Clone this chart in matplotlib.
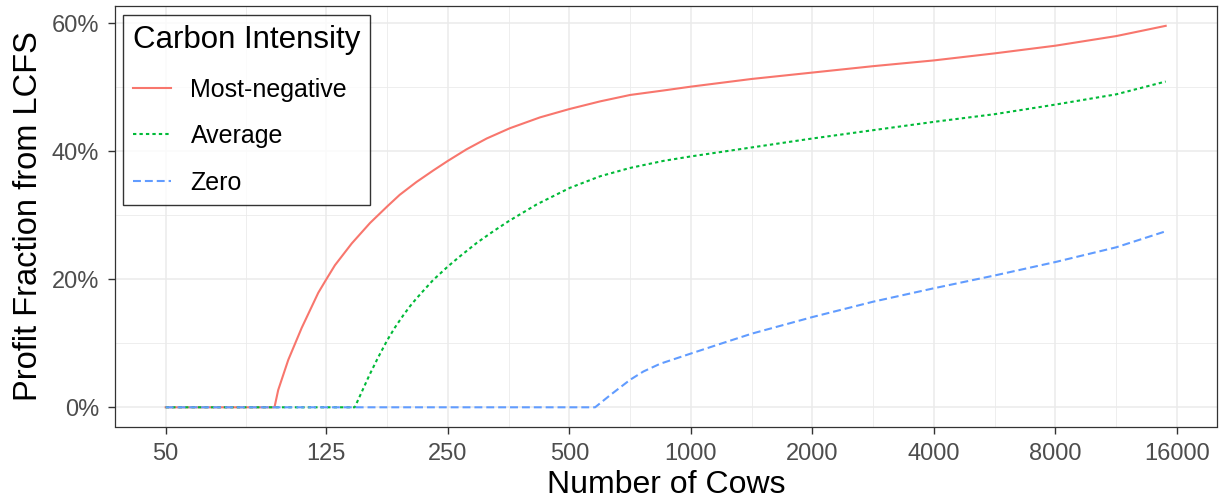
import numpy as np
import matplotlib
matplotlib.use("Agg")
import matplotlib.pyplot as plt
from matplotlib.ticker import FixedLocator, FuncFormatter, NullFormatter

plt.rcParams['font.family'] = ['Liberation Sans', 'DejaVu Sans']

# values (x = number of cows, y = percent)
cows_red = [50, 93, 95, 100.6, 108.6, 119.4, 125, 131.3, 144.5, 160.4, 177, 190, 209, 230,
            250, 278, 312, 356, 423, 500, 596, 707, 855,
            1000, 1414, 2000, 2828, 4000, 5657, 8000, 11314, 15000]
most_negative = [0, 0, 2.7, 7.4, 12.4, 17.9, 20.0, 22.2, 25.6, 28.8, 31.4, 33.2, 35.2, 37.0,
                 38.5, 40.3, 42.0, 43.6, 45.3, 46.6, 47.8, 48.8, 49.5,
                 50.1, 51.3, 52.3, 53.3, 54.2, 55.3, 56.5, 58.0, 59.6]

cows_green = [50, 147, 153, 160, 168, 177, 185, 194, 201.5, 209, 219.5, 230, 250, 268,
              295, 324, 354, 415, 502, 596, 707, 855,
              1000, 1414, 2000, 2828, 4000, 5657, 8000, 11314, 15000]
average = [0, 0, 2.4, 5.1, 7.8, 10.5, 12.5, 14.4, 15.8, 17.0, 18.5, 19.9, 22.0, 23.6,
           25.7, 27.5, 29.1, 31.7, 34.3, 36.1, 37.4, 38.5,
           39.2, 40.6, 42.0, 43.3, 44.6, 45.8, 47.3, 48.9, 50.9]

cows_blue = [50, 579, 631, 707, 763, 839, 1000, 1181, 1414, 2000, 2828, 4000, 5657, 8000, 11314, 15000]
zero = [0, 0, 1.9, 4.3, 5.6, 6.8, 8.4, 9.9, 11.5, 14.1, 16.5, 18.6, 20.6, 22.7, 25.0, 27.5]

x_breaks = [50, 125, 250, 500, 1000, 2000, 4000, 8000, 16000]
y_breaks = [0, 20, 40, 60]

fig = plt.figure(figsize=(12.23, 5.0), dpi=100)
ax = fig.add_axes([115 / 1223, 73.5 / 500, 1102 / 1223, 420.5 / 500])

ax.plot(cows_red, most_negative, color='#F8766D', lw=1.5, label='Most-negative', zorder=3)
ax.plot(cows_green, average, color='#00BA38', lw=1.5, dashes=(1.6, 1.5), label='Average', zorder=3)
ax.plot(cows_blue, zero, color='#619CFF', lw=1.5, dashes=(3.8, 1.9), label='Zero', zorder=3)

ax.set_xscale('log', base=2)
ax.set_xlim(37.45, 20100)
ax.set_ylim(-3.0, 62.7)

ax.xaxis.set_major_locator(FixedLocator(x_breaks))
ax.xaxis.set_major_formatter(FuncFormatter(lambda v, p: '%d' % round(v)))
minor_x = [np.sqrt(a * b) for a, b in zip(x_breaks[:-1], x_breaks[1:])]
ax.xaxis.set_minor_locator(FixedLocator(minor_x))
ax.xaxis.set_minor_formatter(NullFormatter())
ax.yaxis.set_major_locator(FixedLocator(y_breaks))
ax.yaxis.set_major_formatter(FuncFormatter(lambda v, p: '%d%%' % v))
ax.yaxis.set_minor_locator(FixedLocator([10, 30, 50]))

ax.grid(which='major', color='#EBEBEB', lw=1.1, zorder=0)
ax.grid(which='minor', color='#EBEBEB', lw=0.6, zorder=0)
ax.set_axisbelow(True)

for s in ax.spines.values():
    s.set_color('#333333')
    s.set_linewidth(0.9)
ax.tick_params(which='major', length=5, width=1.0, color='#333333',
               labelsize=17, labelcolor='#4D4D4D', pad=6.6)
ax.tick_params(which='minor', length=0)

ax.set_xlabel('Number of Cows', fontsize=23, color='black', labelpad=4)
ax.set_ylabel('Profit Fraction from LCFS', fontsize=23.5, color='black', labelpad=5)

leg = ax.legend(title='Carbon Intensity', loc='upper left',
                bbox_to_anchor=(8 / 1102, 1 - 9 / 420.5), borderaxespad=0,
                fontsize=18, title_fontsize=22.5, frameon=True, fancybox=False,
                edgecolor='black', handlelength=1.5, handletextpad=0.8,
                labelspacing=0.9, borderpad=0.4, alignment='left')
leg.get_frame().set_linewidth(1.0)

fig.savefig('out.png', dpi=100)
